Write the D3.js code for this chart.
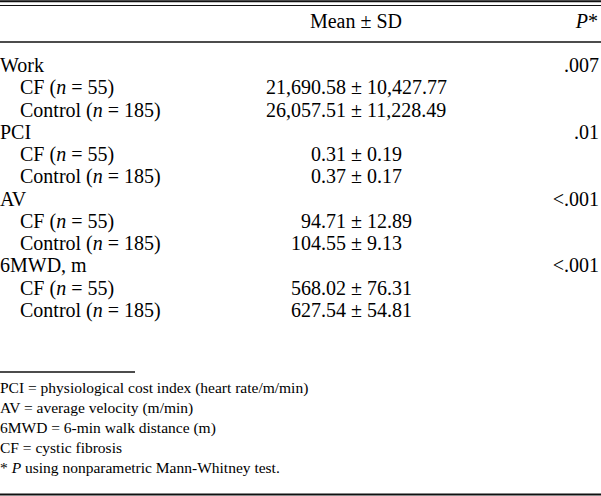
<!DOCTYPE html>
<html>
<head>
<meta charset="utf-8">
<script src="https://cdn.jsdelivr.net/npm/d3@7"></script>
<style>
  body { margin: 0; background: #fff; }
  svg text { font-family: "Liberation Serif", "Times New Roman", serif; fill: #000; }
</style>
</head>
<body>
<div id="table"></div>
<script>
// measures shown in the table
var measures = ["Work", "PCI", "AV", "6MWD, m"];
var pValues = [".007", ".01", "<.001", "<.001"];
// groups inside every measure
var groups = [{name: "CF", n: 55}, {name: "Control", n: 185}];
// mean and SD, one pair per group (CF, Control)
var means = [[21690.58, 26057.51], [0.31, 0.37], [94.71, 104.55], [568.02, 627.54]];
var sds = [[10427.77, 11228.49], [0.19, 0.17], [12.89, 9.13], [76.31, 54.81]];
var footnotes = [
  "PCI = physiological cost index (heart rate/m/min)",
  "AV = average velocity (m/min)",
  "6MWD = 6-min walk distance (m)",
  "CF = cystic fibrosis"
];

var width = 601, height = 496;
var fmt = d3.format(",.2f");

var svg = d3.select("#table").append("svg")
  .attr("width", width)
  .attr("height", height);

// flatten into rows: measure row, then one row per group
var rows = [];
measures.forEach(function(m, i) {
  rows.push({type: "measure", label: m, p: pValues[i]});
  groups.forEach(function(g, j) {
    rows.push({type: "group", g: g, mean: means[i][j], sd: sds[i][j]});
  });
});

var y = d3.scaleLinear().domain([0, rows.length - 1]).range([72, 317]);
var pmX = 346; // where the ± column sits

// rules
function rule(y0, x1, w) {
  svg.append("line").attr("x1", 0).attr("x2", x1).attr("y1", y0).attr("y2", y0)
    .attr("stroke", "#111").attr("stroke-width", w);
}
rule(1.2, width, 2);
rule(5.5, width, 1);
rule(42, width, 1.6);
rule(372, 135, 1.4);
rule(494.5, width, 2);

// header
svg.append("text").attr("x", 356).attr("y", 28).attr("text-anchor", "middle")
  .style("font-size", "20px").text("Mean \u00b1 SD");
var ph = svg.append("text").attr("x", 598).attr("y", 28).attr("text-anchor", "end")
  .style("font-size", "20px");
ph.append("tspan").style("font-style", "italic").text("P");
ph.append("tspan").text("*");

var row = svg.selectAll("g.row").data(rows).enter().append("g")
  .attr("class", "row")
  .attr("transform", function(d, i) { return "translate(0," + y(i) + ")"; })
  .style("font-size", "20px");

row.filter(function(d) { return d.type == "measure"; }).each(function(d) {
  var g = d3.select(this);
  g.append("text").attr("x", 0).text(d.label);
  g.append("text").attr("x", 599).attr("text-anchor", "end").text(d.p);
});

row.filter(function(d) { return d.type == "group"; }).each(function(d) {
  var g = d3.select(this);
  var t = g.append("text").attr("x", 20);
  t.append("tspan").text(d.g.name + " (");
  t.append("tspan").style("font-style", "italic").text("n");
  t.append("tspan").text(" = " + d.g.n + ")");
  g.append("text").attr("x", pmX).attr("text-anchor", "end").text(fmt(d.mean));
  g.append("text").attr("x", pmX + 5).text("\u00b1 " + fmt(d.sd));
});

// footnotes
var fy = d3.scaleLinear().domain([0, footnotes.length]).range([393, 473]);
svg.selectAll("text.note").data(footnotes).enter().append("text")
  .attr("class", "note")
  .attr("x", 0)
  .attr("y", function(d, i) { return fy(i); })
  .style("font-size", "15.5px")
  .text(function(d) { return d; });
var star = svg.append("text").attr("x", 0).attr("y", fy(footnotes.length)).style("font-size", "15.5px");
star.append("tspan").text("* ");
star.append("tspan").style("font-style", "italic").text("P");
star.append("tspan").text(" using nonparametric Mann-Whitney test.");
</script>
</body>
</html>
